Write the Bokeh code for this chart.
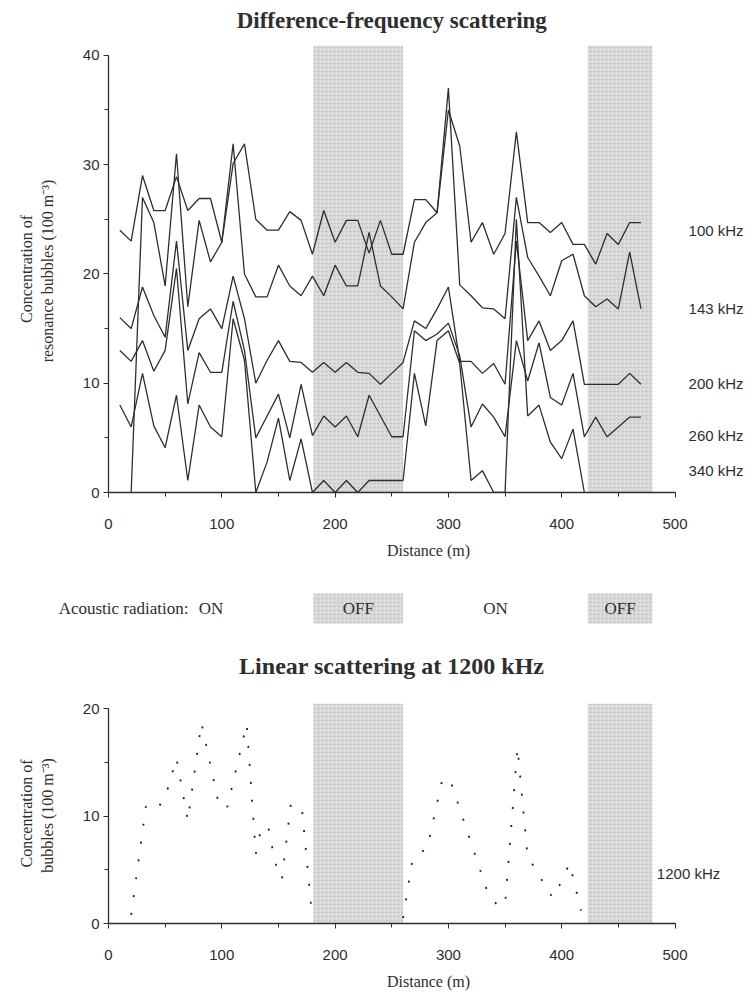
import math
from bokeh.plotting import figure
from bokeh.layouts import column
from bokeh.models import Range1d, SingleIntervalTicker, FixedTicker, ColumnDataSource
from bokeh.core.properties import value
from bokeh.embed import file_html
from bokeh.resources import INLINE

nan = float("nan")

# ---------------- data ----------------
distance_m = list(range(10, 480, 10))

f100 = [24, 23, 29, 25.8, 25.8, 28.9, 25.8, 26.9, 26.9, 22.9,
        30.1, 31.9, 25, 24, 24, 25.7, 24.9, 21.8, 25.8, 22.9,
        24.9, 24.9, 21.9, 24.9, 21.8, 21.8, 26.8, 26.8, 25.6, 35,
        31.7, 22.9, 24.7, 21.8, 23.7, 33, 24.7, 24.7, 23.8, 24.7,
        22.7, 22.7, 20.9, 23.7, 22.7, 24.7, 24.7]
f143 = [nan, 0, 27, 24.7, 18.9, 31, 17, 24.9, 21.1, 22.9,
        31.9, 20, 17.9, 17.9, 20.8, 18.9, 18.0, 19.8, 18.0, 20.8,
        18.9, 18.9, 23.8, 18.9, 17.9, 16.8, 22.9, 24.7, 25.6, 37,
        19, 18, 16.9, 16.8, 15.9, 27, 21.5, 19.8, 18, 21.2,
        21.8, 18, 17, 17.7, 16.8, 22, 16.8]
f200 = [16, 15, 18.8, 16.2, 14.2, 23, 13, 15.9, 16.8, 15.0,
        19.8, 15.9, 10, 12.1, 13.9, 12, 11.9, 11.0, 11.9, 11.0,
        11.9, 11.0, 10.9, 9.9, 10.9, 11.9, 15.7, 15.0, 16.8, 18.8,
        12.0, 12.0, 10.9, 11.8, 9.9, 23, 13.9, 15.7, 13.0, 13.9,
        15.7, 9.9, 9.9, 9.9, 9.9, 10.9, 9.9]
f260 = [13, 12, 13.9, 11.1, 13.0, 20.5, 8.1, 12.8, 11, 11,
        17.5, 13, 5, 7, 9, 5, 9.9, 5.2, 7.0, 6.0,
        7.0, 5.1, 8.9, 7.0, 5.1, 5.1, 14.8, 13.9, 14.5, 15.5,
        12.5, 6.0, 8.1, 6.9, 5.1, 13.9, 10.2, 13.7, 8.7, 8.0,
        10.9, 5.1, 6.9, 5.1, 6.0, 6.9, 6.9]
f340 = [8, 6, 10.9, 6.1, 4.1, 8.9, 1.1, 8.0, 6.0, 5.1,
        15.9, 12.1, 0, 2.8, 6.8, 1.1, 4.9, 0, 1.1, 0,
        1.1, 0, 1.1, 1.1, 1.1, 1.1, 10.9, 6.1, 13.9, 14.8,
        11.8, 1.1, 2.0, 0, 0, 25, 7.0, 8.0, 4.6, 3.1,
        5.8, 0, nan, nan, nan, nan, nan]

series_labels = ["100 kHz", "143 kHz", "200 kHz", "260 kHz", "340 kHz"]

# linear scattering at 1200 kHz (NaN = gap while radiation OFF)
lin_dist = [20, 33, 43, 51, 60, 70, 82, 98, 105, 122, 130, 135, 141, 147, 153, 161, 171, 179,
            220,
            260, 268, 274, 281, 295, 303, 334, 343, 350, 361, 370, 380, 386, 393, 407, 417]
lin_conc = [0.8, 10.9, 10.6, 12.1, 15.4, 9.6, 18.7, 10.8, 10.9, 18.6, 6.5, 9.0, 9.0, 5.7, 4.1, 11.2, 10.4, 1.5,
            nan,
            0.5, 5.8, 6.6, 6.9, 13.6, 12.9, 3.1, 1.7, 1.7, 16.4, 6.1, 4.7, 3.1, 2.4, 5.6, 1.2]

# acoustic radiation OFF zones (m)
off_start = [181, 423]
off_end = [260, 480]

x_ticks_bounds = (0, 500)

# ---------------- layout constants ----------------
W = 748
X0 = 108          # page px of 0 m (left edge of every plot frame)
PXM = 1.133       # px per metre
XEND = (W - X0) / PXM
SERIF = "Liberation Serif"
SANS = "Liberation Sans"
INK = "#2e2e2e"
SHADE = "#dcdcdc"
HATCH = dict(hatch_pattern="dot", hatch_color="#bdbdbd", hatch_scale=4, hatch_weight=0.8)

label_y = [24, 16.8, 10, 5.2, 2.0]
label_x = 512
x_mid = sum(x_ticks_bounds) / 2


def text_fig(height, with_left_axis=False):
    f = figure(width=W, height=height, x_range=Range1d(0, XEND), y_range=Range1d(height, 0),
               output_backend="svg", toolbar_location=None,
               x_axis_location=None, y_axis_location="left" if with_left_axis else None,
               min_border_left=X0, min_border_right=0, min_border_top=0, min_border_bottom=0)
    f.grid.visible = False
    f.outline_line_color = None
    return f


def style_axes(p, ymax):
    p.xaxis.ticker = SingleIntervalTicker(interval=100, num_minor_ticks=2)
    p.yaxis.ticker = SingleIntervalTicker(interval=10, num_minor_ticks=2)
    p.xaxis.bounds = x_ticks_bounds
    p.yaxis.bounds = (0, ymax)
    for ax in (p.xaxis[0], p.yaxis[0]):
        ax.axis_line_color = INK
        ax.axis_line_width = 1.3
        ax.major_tick_line_color = INK
        ax.minor_tick_line_color = INK
        ax.major_tick_out = 5
        ax.major_tick_in = 0
        ax.minor_tick_out = 4
        ax.minor_tick_in = 0
        ax.major_label_text_font = SANS
        ax.major_label_text_font_size = "15px"
        ax.major_label_text_color = INK
        ax.axis_label_text_font = SERIF
        ax.axis_label_text_font_size = "16px"
        ax.axis_label_text_font_style = "normal"
        ax.axis_label_text_color = INK
    p.xaxis.major_label_standoff = 21
    p.xaxis.axis_label_standoff = 10
    p.yaxis.major_label_standoff = 4
    p.yaxis.axis_label_standoff = 24
    p.xaxis.axis_label = "Distance (m)"
    p.grid.visible = False
    p.outline_line_color = None


# ---------------- title row ----------------
t1 = text_fig(45)
t1.text(x=[x_mid], y=[20], text=["Difference-frequency scattering"], text_font=value(SERIF),
        text_font_style="bold", text_font_size="23px", text_color=INK,
        text_align="center", text_baseline="middle")

# ---------------- top chart ----------------
p1 = figure(width=W, height=527, x_range=Range1d(0, XEND), y_range=Range1d(0, 40.9),
            output_backend="svg", toolbar_location=None,
            min_border_left=X0, min_border_right=0, min_border_top=0, min_border_bottom=80)
p1.quad(left=off_start, right=off_end, bottom=0, top=40.9, fill_color=SHADE, line_color=None, **HATCH)
for ys in (f100, f143, f200, f260, f340):
    p1.line(distance_m, ys, line_color=INK, line_width=1.3)
lab_src = ColumnDataSource(dict(x=[label_x] * 5, y=label_y, t=series_labels))
p1.text(x="x", y="y", text="t", source=lab_src, text_font=value(SANS), text_font_size="15px",
        text_color=INK, text_align="left", text_baseline="middle")
style_axes(p1, 40)
p1.yaxis.axis_label = "Concentration of\nresonance bubbles (100  m\u207b\u00b3)"

# ---------------- acoustic radiation row + second title ----------------
ROW_Y = 36
t2 = text_fig(126, with_left_axis=True)
t2.quad(left=off_start, right=off_end, top=21, bottom=51, fill_color=SHADE, line_color=None, **HATCH)
on_start = [0] + off_end[:-1]
on_end = off_start
state_x, state_t = [], []
for a, b, c, d in zip(on_start, on_end, off_start, off_end):
    state_x += [(a + b) / 2, (c + d) / 2]
    state_t += ["ON", "OFF"]
t2.text(x=state_x, y=[ROW_Y] * len(state_x), text=state_t, text_font=value(SERIF),
        text_font_size="17px", text_color=INK, text_align="center", text_baseline="middle")
# "Acoustic radiation:" is drawn as the single tick label of the row's left axis
ya = t2.yaxis[0]
ya.ticker = FixedTicker(ticks=[ROW_Y], minor_ticks=[])
ya.major_label_overrides = {ROW_Y: "Acoustic radiation:"}
ya.axis_line_color = None
ya.major_tick_line_color = None
ya.minor_tick_line_color = None
ya.major_tick_out = 0
ya.major_tick_in = 0
ya.major_label_standoff = -80
ya.major_label_text_font = SERIF
ya.major_label_text_font_size = "17px"
ya.major_label_text_color = INK
t2.text(x=[x_mid], y=[93], text=["Linear scattering at 1200 kHz"], text_font=value(SERIF),
        text_font_style="bold", text_font_size="24px", text_color=INK,
        text_align="center", text_baseline="middle")

# ---------------- bottom chart ----------------
p3 = figure(width=W, height=294, x_range=Range1d(0, XEND), y_range=Range1d(0, 20.5),
            output_backend="svg", toolbar_location=None,
            min_border_left=X0, min_border_right=0, min_border_top=5, min_border_bottom=68)
p3.quad(left=off_start, right=off_end, bottom=0, top=20.5, fill_color=SHADE, line_color=None, **HATCH)
p3.line(lin_dist, lin_conc, line_color="#222222", line_width=1.8, line_dash="2 16")
p3.text(x=[484], y=[4.7], text=["1200 kHz"], text_font=value(SANS), text_font_size="15px",
        text_color=INK, text_align="left", text_baseline="middle")
style_axes(p3, 20)
p3.yaxis.axis_label = "Concentration of\nbubbles (100  m\u207b\u00b3)"

layout = column(t1, p1, t2, p3, spacing=0)
open("out.html", "w").write(file_html(layout, INLINE))
